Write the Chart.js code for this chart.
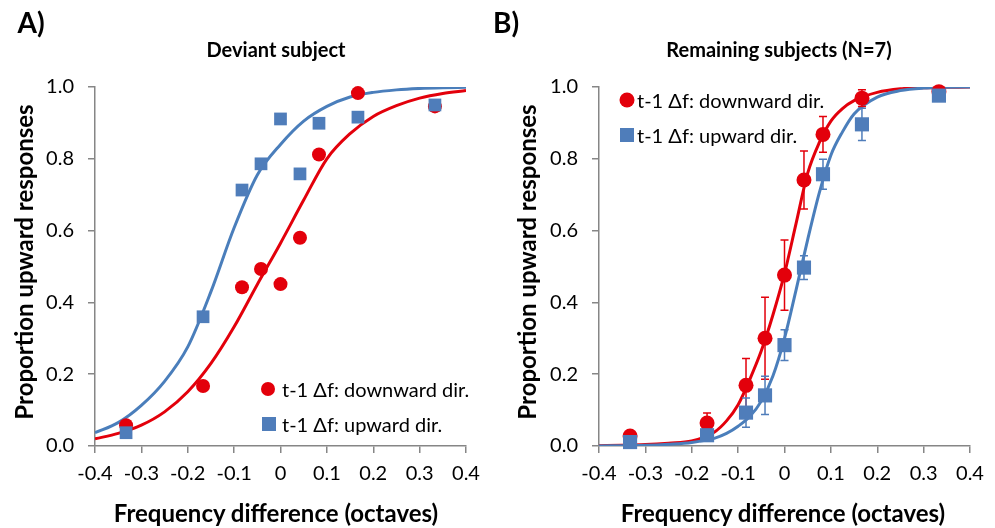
<!DOCTYPE html>
<html><head><meta charset="utf-8">
<script src="https://cdn.jsdelivr.net/npm/chart.js@4/dist/chart.umd.min.js"></script>
<style>
body{margin:0;width:995px;height:528px;background:#fff;position:relative;overflow:hidden;font-family:Lato,"Open Sans",sans-serif;color:#000;}
.panel{position:absolute;top:0;height:528px;}
.c{position:absolute;white-space:nowrap;transform:translate(-50%,-50%);line-height:1;}
.b{font-weight:bold;}
.rot{transform:translate(-50%,-50%) rotate(-90deg);}
.leg{position:absolute;white-space:nowrap;font-size:20px;line-height:1;transform:translateY(-50%);}
.dot{position:absolute;border-radius:50%;background:#E3000B;transform:translate(-50%,-50%);}
.sq{position:absolute;background:#4F7DBA;transform:translate(-50%,-50%);}
</style></head><body>
<div class="panel" style="left:0;width:497px;"><canvas id="ca" width="497" height="528"></canvas></div>
<div class="panel" style="left:497px;width:498px;"><canvas id="cb" width="498" height="528"></canvas></div>

<div class="c b" style="left:31px;top:22px;font-size:28px;">A)</div>
<div class="c b" style="left:506px;top:22px;font-size:28px;">B)</div>
<div class="c b" style="left:276px;top:49px;font-size:20px;">Deviant subject</div>
<div class="c b" style="left:779px;top:49px;font-size:20px;">Remaining subjects (N=7)</div>
<div class="c b rot" style="left:24px;top:262px;font-size:24px;">Proportion upward responses</div>
<div class="c b rot" style="left:527px;top:262px;font-size:24px;">Proportion upward responses</div>
<div class="c b" style="left:276px;top:513px;font-size:24px;">Frequency difference (octaves)</div>
<div class="c b" style="left:783px;top:513px;font-size:24px;">Frequency difference (octaves)</div>

<div class="dot" style="left:268px;top:389px;width:14px;height:14px;"></div>
<div class="leg" style="left:282px;top:389px;">t-1 Δf: downward dir.</div>
<div class="sq" style="left:269px;top:424px;width:14px;height:14px;"></div>
<div class="leg" style="left:282px;top:424px;">t-1 Δf: upward dir.</div>

<div class="dot" style="left:627px;top:100px;width:15px;height:15px;"></div>
<div class="leg" style="left:637px;top:100px;">t-1 Δf: downward dir.</div>
<div class="sq" style="left:627px;top:135px;width:14px;height:14px;"></div>
<div class="leg" style="left:637px;top:135px;">t-1 Δf: upward dir.</div>

<script>
// ---- data ----
const xLevels = [-0.333, -0.167, -0.083, -0.042, 0, 0.042, 0.083, 0.167, 0.333];
const xTickLabels = ['-0.4','-0.3','-0.2','-0.1','0','0.1','0.2','0.3','0.4'];
const yTickLabels = ['0.0','0.2','0.4','0.6','0.8','1.0'];

// Panel A: deviant subject
const aDown = [0.058, 0.167, 0.442, 0.493, 0.451, 0.580, 0.812, 0.983, 0.946];
const aUp   = [0.037, 0.360, 0.713, 0.786, 0.911, 0.758, 0.899, 0.916, 0.950];
const aCurveX = [-0.4,-0.35,-0.3,-0.25,-0.2,-0.15,-0.1,-0.05,0,0.05,0.1,0.15,0.2,0.25,0.3,0.35,0.4];
const aDownCurve = [0.020,0.035,0.058,0.095,0.151,0.230,0.332,0.450,0.565,0.685,0.800,0.870,0.918,0.948,0.969,0.982,0.990];
const aUpCurve   = [0.037,0.065,0.113,0.180,0.276,0.430,0.608,0.755,0.840,0.905,0.946,0.972,0.985,0.992,0.996,0.998,0.999];

// Panel B: remaining subjects
const bDown    = [0.028, 0.064, 0.169, 0.300, 0.476, 0.741, 0.868, 0.969, 0.987];
const bDownErr = [0.008, 0.028, 0.075, 0.114, 0.098, 0.081, 0.050, 0.023, 0.006];
const bUp      = [0.011, 0.030, 0.093, 0.141, 0.281, 0.497, 0.757, 0.896, 0.976];
const bUpErr   = [0.005, 0.010, 0.041, 0.053, 0.043, 0.033, 0.042, 0.045, 0.010];
const bCurveX = [-0.4,-0.35,-0.3,-0.25,-0.2,-0.15,-0.125,-0.1,-0.075,-0.05,-0.025,0,0.025,0.05,0.075,0.1,0.125,0.15,0.2,0.25,0.3,0.35,0.4];
const bDownCurve = [0.001,0.002,0.004,0.008,0.014,0.040,0.070,0.115,0.185,0.265,0.365,0.480,0.620,0.760,0.845,0.905,0.940,0.962,0.985,0.995,0.998,0.999,1.0];
const bUpCurve   = [0.000,0.001,0.002,0.005,0.010,0.022,0.035,0.055,0.082,0.125,0.195,0.300,0.435,0.575,0.705,0.810,0.875,0.925,0.972,0.990,0.997,0.999,1.0];

// ---- styles ----
const RED = '#E3000B', BLUE = '#4F7DBA';
const RED_LINE = '#E3000B', BLUE_LINE = '#4A7EBB';
const AXIS = '#868686';

const pts = (xs, ys) => xs.map((x, i) => ({x, y: ys[i]}));

const errorBars = {
  id: 'errorBars',
  beforeDatasetDraw(chart, args) {
    const ds = chart.data.datasets[args.index];
    if (!ds.errors) return;
    const ctx = chart.ctx, xs = chart.scales.x, ys = chart.scales.y;
    ctx.save();
    ctx.strokeStyle = ds.backgroundColor;
    ctx.lineWidth = 1.5;
    ds.data.forEach((p, i) => {
      const e = ds.errors[i];
      const px = xs.getPixelForValue(p.x);
      const top = ys.getPixelForValue(p.y + e), bot = ys.getPixelForValue(p.y - e);
      ctx.beginPath();
      ctx.moveTo(px, top); ctx.lineTo(px, bot);
      ctx.moveTo(px - 4, top); ctx.lineTo(px + 4, top);
      ctx.moveTo(px - 4, bot); ctx.lineTo(px + 4, bot);
      ctx.stroke();
    });
    ctx.restore();
  }
};

function makeChart(id, yWidth, padRight, down, up, cx, downCurve, upCurve, downErr, upErr, rCircle, rSquare) {
  const datasets = [
    {data: pts(xLevels, up), pointStyle: 'rect', pointRadius: rSquare, backgroundColor: BLUE, borderColor: BLUE, borderWidth: 0, showLine: false, order: 0, clip: false, errors: upErr},
    {data: pts(xLevels, down), pointStyle: 'circle', pointRadius: rCircle, backgroundColor: RED, borderColor: RED, borderWidth: 0, showLine: false, order: 1, clip: false, errors: downErr},
    {data: pts(cx, upCurve), showLine: true, pointRadius: 0, borderColor: BLUE_LINE, borderWidth: 3, cubicInterpolationMode: 'monotone', order: 2, fill: false},
    {data: pts(cx, downCurve), showLine: true, pointRadius: 0, borderColor: RED_LINE, borderWidth: 3, cubicInterpolationMode: 'monotone', order: 3, fill: false}
  ];
  const tickFont = {family: 'Lato', size: 20};
  return new Chart(document.getElementById(id), {
    type: 'scatter',
    data: {datasets},
    plugins: [errorBars],
    options: {
      responsive: false, animation: false, devicePixelRatio: 1,
      layout: {padding: {top: 87, bottom: 42, left: 0, right: padRight}},
      plugins: {legend: {display: false}, title: {display: false}, tooltip: {enabled: false}},
      events: [],
      scales: {
        x: {
          type: 'linear', min: -0.4, max: 0.4,
          afterFit: s => { s.height = 40; },
          ticks: {stepSize: 0.1, color: '#000', font: tickFont, padding: 9, maxRotation: 0, autoSkip: false,
                  callback: (v, i) => xTickLabels[i]},
          grid: {drawOnChartArea: false, drawTicks: true, tickLength: 7, color: AXIS, lineWidth: 1.5},
          border: {color: AXIS, width: 1.5}
        },
        y: {
          type: 'linear', min: 0, max: 1,
          afterFit: s => { s.width = yWidth; },
          ticks: {stepSize: 0.2, color: '#000', font: tickFont, padding: 14,
                  callback: (v, i) => yTickLabels[i]},
          grid: {drawOnChartArea: false, drawTicks: true, tickLength: 7, color: AXIS, lineWidth: 1.5},
          border: {color: AXIS, width: 1.5}
        }
      }
    }
  });
}

makeChart('ca', 95, 31, aDown, aUp, aCurveX, aDownCurve, aUpCurve, null, null, 7, 9);
makeChart('cb', 102, 25, bDown, bUp, bCurveX, bDownCurve, bUpCurve, bDownErr, bUpErr, 7.5, 10);
</script>
</body></html>
